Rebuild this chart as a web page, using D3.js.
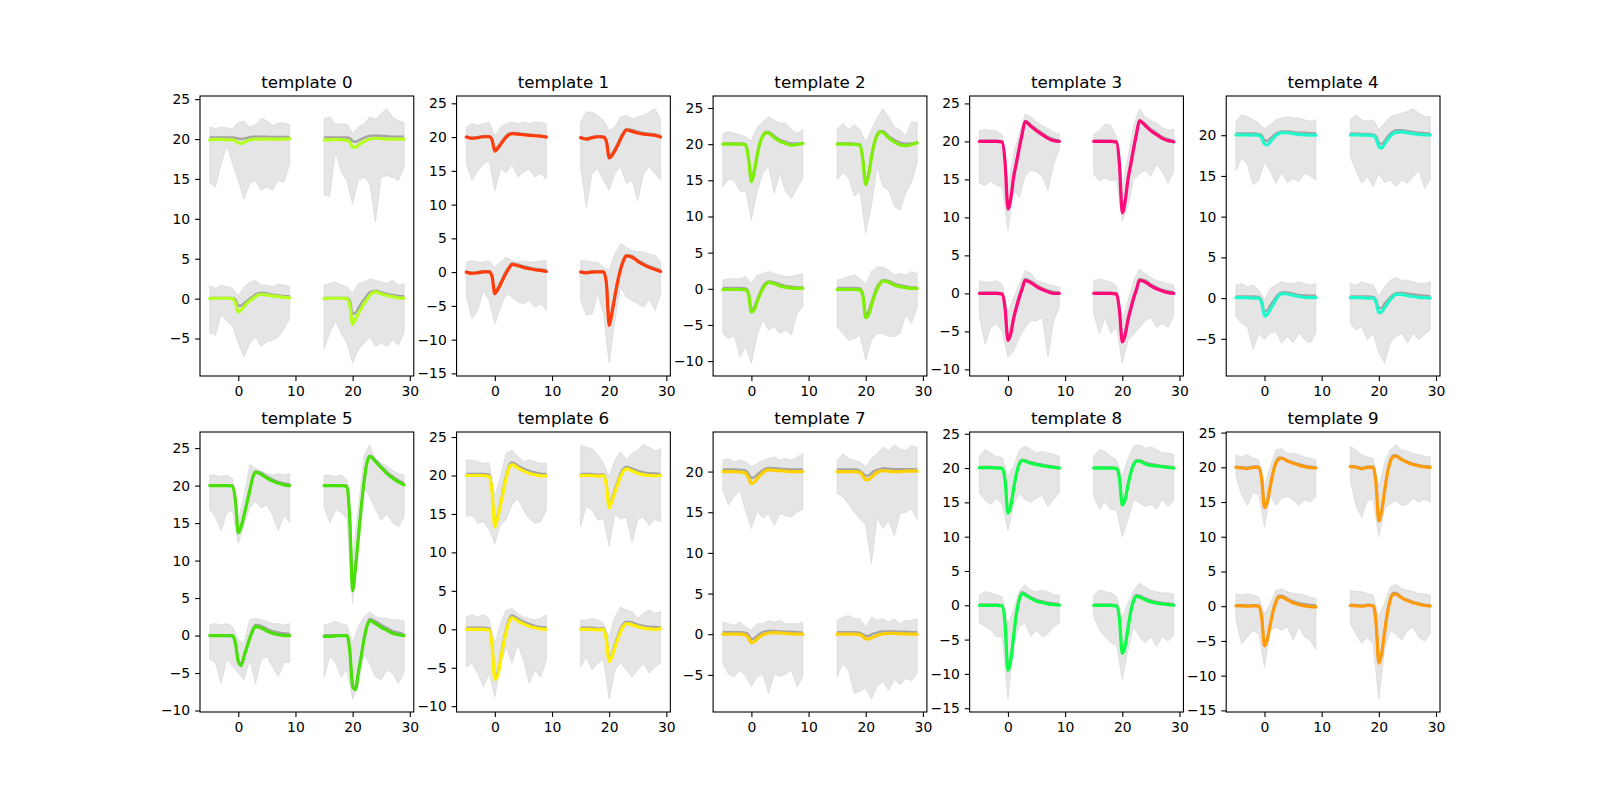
<!DOCTYPE html>
<html>
<head>
<meta charset="utf-8">
<script src="https://cdn.jsdelivr.net/npm/d3@7"></script>
<style>
body { margin: 0; background: #fff; }
svg text { font-family: 'DejaVu Sans', sans-serif; }
</style>
</head>
<body>
<svg id="canvas"></svg>
<script>
// sample positions (relative to spike) for template / mean lines and for the envelope
let sampleX = [-5, -4, -3, -2, -1, -0.5, 0, 0.5, 1, 1.5, 2, 2.5, 3, 4, 5, 6, 7, 8, 9]
let envX = [-5, -4, -3, -2, -1, 0, 1, 2, 3, 4, 5, 6, 7, 8, 9]
// 4 channels: x shift and baseline offset
let channelShift = [0, 20, 0, 20]
let channelBase = [20, 20, 0, 0]

let titles = ['template 0', 'template 1', 'template 2', 'template 3', 'template 4',
    'template 5', 'template 6', 'template 7', 'template 8', 'template 9']
let colors = ['#b4ff1e', '#ff3c0a', '#7fef05', '#ff0a78', '#20f8cc',
    '#48e008', '#ffef00', '#ffd000', '#0cff44', '#ff9a0a']
let xTicks = [0, 10, 20, 30]
let yTicks = [
    [-5, 0, 5, 10, 15, 20, 25],
    [-15, -10, -5, 0, 5, 10, 15, 20, 25],
    [-10, -5, 0, 5, 10, 15, 20, 25],
    [-10, -5, 0, 5, 10, 15, 20, 25],
    [-5, 0, 5, 10, 15, 20],
    [-10, -5, 0, 5, 10, 15, 20, 25],
    [-10, -5, 0, 5, 10, 15, 20, 25],
    [-5, 0, 5, 10, 15, 20],
    [-15, -10, -5, 0, 5, 10, 15, 20, 25],
    [-15, -10, -5, 0, 5, 10, 15, 20, 25]
]

// template waveform, per template, per channel (value above channel baseline)
let templates = [
    [[-0.1,-0.05,-0.05,-0.1,-0.1,-0.2,-0.5,-0.55,-0.4,-0.25,-0.1,-0.05,0,0,0,0,0,0,0.05],
     [-0.1,-0.1,-0.05,-0.1,-0.15,-0.35,-1.0,-1.05,-0.75,-0.5,-0.3,-0.15,0,0.1,0.05,0,0,0,0],
     [0,0.05,0.05,0.05,0,-0.5,-1.7,-1.4,-1.0,-0.6,-0.3,0,0.25,0.55,0.45,0.35,0.25,0.15,0.1],
     [0,0.05,0.05,0.05,0,-0.8,-3.2,-2.6,-1.9,-1.2,-0.6,-0.1,0.4,0.85,0.6,0.4,0.25,0.1,0.05]],
    [[0,-0.2,-0.1,0.05,0.05,-0.4,-2.1,-1.7,-1.1,-0.5,0,0.35,0.5,0.45,0.35,0.25,0.2,0.15,0],
     [-0.1,-0.3,-0.1,0.05,0,-0.6,-3.1,-2.7,-2.0,-1.2,-0.3,0.5,1.05,0.85,0.6,0.45,0.35,0.25,0],
     [0,-0.2,-0.1,0.05,0.05,-0.6,-3.2,-2.6,-1.8,-0.9,-0.1,0.6,1.15,0.95,0.7,0.5,0.35,0.25,0.1],
     [0,-0.1,0,0.05,0.05,-1.5,-7.9,-6.0,-3.6,-1.4,0.4,1.7,2.4,2.2,1.6,1.1,0.7,0.4,0.1]],
    [[0,0,0,0,-0.1,-2.0,-5.2,-3.8,-1.6,0.2,1.1,1.6,1.55,0.9,0.4,0.1,-0.15,-0.05,0.1],
     [0,0,0,-0.05,-0.1,-2.2,-5.6,-4.3,-1.9,0.1,1.2,1.7,1.6,0.9,0.3,-0.1,-0.2,-0.05,0.2],
     [-0.1,-0.1,-0.1,-0.1,-0.15,-0.8,-3.2,-2.9,-1.8,-0.8,0,0.6,0.9,0.7,0.4,0.2,0.1,0.05,0.1],
     [-0.1,-0.1,-0.1,-0.1,-0.15,-1.0,-4.0,-3.6,-2.3,-1.0,0,0.7,1.1,0.9,0.5,0.3,0.15,0.05,0.05]],
    [[0,0,0,0,-0.1,-2.8,-8.9,-7.5,-4.7,-2.8,-0.8,1.0,2.6,2.0,1.4,0.9,0.4,0.1,0],
     [0,0,0,0,-0.1,-3.0,-9.4,-7.9,-5.0,-3.0,-0.9,1.0,2.7,2.1,1.4,0.9,0.4,0.1,-0.05],
     [0,0,0,0,-0.1,-2.0,-6.2,-5.3,-3.3,-1.8,-0.5,0.6,1.7,1.4,0.9,0.5,0.2,0,0],
     [0,0,0,0,-0.1,-2.2,-6.4,-5.5,-3.5,-2.0,-0.6,0.5,1.7,1.5,1.0,0.6,0.3,0.1,0]],
    [[0.05,0.05,0.05,0,0,-0.3,-1.1,-1.2,-0.8,-0.4,-0.05,0.2,0.3,0.3,0.2,0.1,0.05,0,0],
     [0.05,0.05,0,0,-0.05,-0.4,-1.4,-1.6,-1.1,-0.6,-0.1,0.2,0.35,0.4,0.3,0.2,0.1,0.05,0],
     [0.05,0.05,0.05,0,0,-0.6,-2.2,-2.0,-1.4,-0.8,-0.2,0.3,0.55,0.5,0.35,0.2,0.1,0.05,0.05],
     [0.05,0.05,0.05,0,0,-0.5,-1.8,-1.7,-1.2,-0.7,-0.2,0.2,0.45,0.45,0.3,0.2,0.1,0.05,0]],
    [[0,0,0,0,-0.05,-2.0,-6.3,-5.5,-4.0,-2.4,-0.7,1.0,1.8,1.5,1.0,0.6,0.3,0.1,0],
     [0,0,0,0,-0.1,-4.5,-14.0,-11.0,-7.0,-3.0,0.5,3.0,3.9,3.2,2.4,1.6,1.0,0.5,0.1],
     [0,0,0,0,-0.05,-1.0,-3.5,-4.0,-2.8,-1.6,-0.4,0.6,1.2,1.0,0.6,0.3,0.1,0,0],
     [-0.1,-0.1,-0.05,0,0,-2.0,-6.8,-7.2,-5.0,-2.8,-0.5,1.2,2.0,1.6,1.1,0.7,0.3,0.1,0]],
    [[0,0,0,0,-0.15,-2.0,-6.7,-5.5,-3.8,-2.0,-0.3,1.0,1.4,1.0,0.6,0.3,0.1,-0.05,-0.05],
     [0,0,0,-0.1,0,-1.2,-4.2,-3.3,-2.2,-1.1,-0.1,0.6,0.85,0.6,0.3,0.1,0,-0.05,0],
     [0,0,0,0,-0.1,-2.0,-6.5,-6.0,-4.0,-2.0,-0.3,1.0,1.5,1.1,0.7,0.4,0.2,0.05,0],
     [0,0,0,-0.1,0,-1.3,-4.2,-3.5,-2.4,-1.3,-0.3,0.4,0.75,0.6,0.35,0.15,0.05,0,0.05]],
    [[0,0,0,-0.05,-0.2,-0.8,-1.5,-1.3,-0.9,-0.5,-0.15,0.1,0.2,0.15,0.1,0.05,0,0,0],
     [0,0,0,0,-0.1,-0.5,-1.0,-1.0,-0.7,-0.4,-0.1,0.05,0.1,0.05,0,0,0.05,0.05,0.05],
     [0,0,0,0,-0.1,-0.5,-1.05,-0.9,-0.6,-0.3,-0.1,0.05,0.15,0.2,0.15,0.1,0.05,0,0],
     [0,0,0,0,-0.05,-0.3,-0.55,-0.6,-0.45,-0.3,-0.15,-0.05,0.05,0.1,0.1,0.05,0.05,0,0]],
    [[0.05,0.05,0.05,0,-0.05,-1.8,-6.6,-5.5,-3.0,-0.8,0.6,1.1,1.0,0.7,0.5,0.35,0.2,0.1,0],
     [0,0,0,0,-0.05,-1.5,-5.4,-4.6,-2.5,-0.7,0.5,1.0,1.0,0.6,0.4,0.3,0.2,0.1,0],
     [0,0,0,0,-0.1,-2.8,-9.5,-8.0,-4.5,-1.2,0.9,1.7,1.5,1.0,0.6,0.4,0.2,0.1,0],
     [0,0,0,0,-0.1,-2.0,-7.0,-6.0,-3.4,-0.9,0.7,1.3,1.2,0.8,0.5,0.3,0.2,0.1,0]],
    [[0,-0.1,-0.2,0,0,-1.6,-5.8,-5.0,-2.8,-0.8,0.6,1.2,1.3,0.9,0.6,0.3,0.1,-0.05,-0.1],
     [0.1,0,-0.2,0,0,-2.3,-7.7,-6.3,-3.5,-0.9,0.8,1.5,1.6,1.1,0.7,0.4,0.2,0.05,0],
     [0.05,0.05,0,0.05,0,-1.6,-5.7,-4.8,-2.7,-0.8,0.6,1.3,1.35,0.9,0.5,0.25,0.05,-0.05,-0.1],
     [0.1,0.05,0,0.1,0.1,-2.3,-8.2,-6.8,-3.8,-1.0,0.9,1.7,1.75,1.2,0.8,0.5,0.3,0.1,0]]
]

// mean of the assigned waveforms
let means = [
    [[0.2,0.2,0.2,0.2,0.2,0.15,0.05,0,0.05,0.15,0.25,0.3,0.3,0.3,0.3,0.25,0.25,0.25,0.25],
     [0.2,0.2,0.2,0.2,0.2,0.1,-0.25,-0.35,-0.2,0,0.15,0.3,0.4,0.45,0.4,0.35,0.3,0.3,0.3],
     [0.1,0.1,0.1,0.1,0.1,-0.1,-0.9,-0.9,-0.6,-0.3,0,0.25,0.5,0.75,0.65,0.5,0.4,0.3,0.3],
     [0.1,0.1,0.1,0.1,0.1,-0.2,-1.9,-1.8,-1.2,-0.6,-0.1,0.4,0.8,1.0,0.8,0.6,0.45,0.35,0.3]],
    [[0.1,-0.1,0,0.15,0.15,-0.3,-1.8,-1.4,-0.9,-0.3,0.2,0.5,0.6,0.6,0.45,0.35,0.3,0.2,0.1],
     [0,-0.2,0,0.15,0.1,-0.5,-2.7,-2.4,-1.7,-0.9,0,0.7,1.2,1.05,0.8,0.6,0.5,0.4,0.2],
     [0.1,-0.1,0,0.15,0.15,-0.5,-2.8,-2.3,-1.5,-0.6,0.2,0.8,1.3,1.15,0.9,0.7,0.5,0.4,0.3],
     [0.1,0,0.1,0.15,0.15,-1.3,-7.3,-5.5,-3.2,-1.0,0.7,1.9,2.5,2.4,1.8,1.3,0.9,0.6,0.3]],
    [[0.1,0.1,0.1,0.1,0,-1.8,-4.8,-3.5,-1.4,0.3,1.2,1.7,1.7,1.1,0.6,0.3,0.1,0.1,0.15],
     [0.1,0.1,0.1,0.05,0,-2.0,-5.2,-4.0,-1.6,0.3,1.4,1.8,1.8,1.1,0.6,0.2,0.05,0.1,0.2],
     [0.1,0.1,0.1,0.1,0.05,-0.5,-2.8,-2.5,-1.5,-0.5,0.3,0.8,1.0,0.9,0.6,0.4,0.3,0.2,0.2],
     [0.1,0.1,0.1,0.1,0.05,-0.7,-3.5,-3.1,-1.9,-0.7,0.3,0.9,1.2,1.1,0.7,0.5,0.35,0.2,0.2]],
    [[0.1,0.1,0.1,0.1,0,-2.6,-8.5,-7.1,-4.3,-2.4,-0.5,1.2,2.7,2.2,1.6,1.1,0.6,0.3,0.1],
     [0.1,0.1,0.1,0.1,0,-2.8,-9.0,-7.5,-4.6,-2.6,-0.5,1.3,2.8,2.3,1.6,1.1,0.6,0.3,0.1],
     [0.1,0.1,0.1,0.1,0,-1.8,-5.8,-4.9,-3.0,-1.5,-0.2,0.9,1.9,1.6,1.1,0.7,0.4,0.2,0.1],
     [0.1,0.1,0.1,0.1,0,-2.0,-6.0,-5.1,-3.1,-1.7,-0.3,0.8,1.9,1.7,1.2,0.8,0.5,0.3,0.15]],
    [[0.2,0.2,0.2,0.2,0.15,0,-0.6,-0.7,-0.4,-0.1,0.2,0.35,0.45,0.45,0.4,0.3,0.3,0.25,0.25],
     [0.2,0.2,0.15,0.15,0.1,-0.1,-0.9,-1.1,-0.7,-0.2,0.2,0.45,0.6,0.6,0.5,0.4,0.3,0.25,0.2],
     [0.2,0.2,0.2,0.2,0.15,-0.3,-1.6,-1.5,-0.9,-0.4,0.1,0.5,0.7,0.7,0.55,0.4,0.35,0.3,0.3],
     [0.2,0.2,0.2,0.2,0.15,-0.2,-1.2,-1.2,-0.7,-0.3,0.1,0.4,0.6,0.65,0.55,0.45,0.35,0.3,0.25]],
    [[0.05,0.05,0.05,0.05,0,-1.9,-6.1,-5.3,-3.8,-2.2,-0.5,1.1,1.9,1.7,1.2,0.8,0.5,0.3,0.2],
     [0.05,0.05,0.05,0.05,0,-4.3,-13.6,-10.7,-6.8,-2.8,0.7,3.1,4.0,3.4,2.6,1.8,1.2,0.7,0.3],
     [0.05,0.05,0.05,0.05,0,-0.9,-3.3,-3.8,-2.6,-1.4,-0.2,0.8,1.4,1.3,0.9,0.6,0.4,0.3,0.2],
     [0.05,0.05,0.05,0.05,0,-1.8,-6.5,-7.0,-4.8,-2.6,-0.3,1.4,2.2,1.9,1.4,1.0,0.6,0.4,0.2]],
    [[0.2,0.2,0.2,0.2,0.1,-1.8,-6.3,-5.1,-3.4,-1.6,0.1,1.3,1.7,1.3,0.9,0.6,0.4,0.25,0.2],
     [0.2,0.2,0.2,0.1,0.15,-1.0,-3.8,-3.0,-1.8,-0.7,0.3,0.9,1.1,0.9,0.6,0.4,0.3,0.25,0.2],
     [0.2,0.2,0.2,0.2,0.1,-1.8,-6.2,-5.6,-3.6,-1.6,0.1,1.3,1.8,1.4,1.0,0.7,0.45,0.3,0.25],
     [0.2,0.2,0.2,0.1,0.15,-1.1,-3.9,-3.2,-2.0,-0.9,0.1,0.7,1.0,0.9,0.6,0.45,0.35,0.3,0.25]],
    [[0.25,0.25,0.25,0.2,0.1,-0.3,-0.8,-0.7,-0.4,-0.1,0.15,0.35,0.45,0.4,0.35,0.3,0.25,0.25,0.25],
     [0.25,0.25,0.25,0.25,0.1,-0.2,-0.5,-0.5,-0.2,0.05,0.2,0.3,0.4,0.35,0.3,0.3,0.3,0.3,0.25],
     [0.25,0.25,0.25,0.25,0.15,-0.1,-0.6,-0.5,-0.2,0.05,0.25,0.35,0.4,0.4,0.35,0.3,0.3,0.25,0.2],
     [0.25,0.25,0.25,0.25,0.15,0,-0.2,-0.2,-0.05,0.1,0.2,0.3,0.35,0.35,0.35,0.3,0.3,0.25,0.25]],
    [[0.15,0.15,0.15,0.1,0,-1.7,-6.4,-5.3,-2.8,-0.6,0.8,1.2,1.15,0.85,0.65,0.5,0.35,0.2,0.1],
     [0.1,0.1,0.1,0.1,0,-1.4,-5.2,-4.4,-2.3,-0.5,0.7,1.1,1.1,0.8,0.6,0.45,0.3,0.2,0.1],
     [0.1,0.1,0.1,0.1,0,-2.7,-9.2,-7.7,-4.2,-0.9,1.1,1.9,1.7,1.2,0.8,0.55,0.4,0.25,0.15],
     [0.1,0.1,0.1,0.1,0,-1.9,-6.7,-5.7,-3.1,-0.6,0.9,1.5,1.4,1.0,0.7,0.5,0.35,0.25,0.15]],
    [[0.1,0,-0.05,0.1,0.1,-1.5,-5.6,-4.8,-2.6,-0.6,0.8,1.4,1.4,1.0,0.7,0.45,0.25,0.1,0],
     [0.2,0.1,-0.1,0.1,0.1,-2.2,-7.5,-6.1,-3.3,-0.7,1.0,1.7,1.7,1.2,0.8,0.5,0.3,0.15,0.1],
     [0.15,0.15,0.1,0.15,0.1,-1.5,-5.5,-4.6,-2.5,-0.6,0.8,1.5,1.5,1.1,0.7,0.45,0.3,0.2,0.1],
     [0.2,0.15,0.1,0.2,0.15,-2.2,-8.0,-6.6,-3.6,-0.8,1.1,1.9,1.9,1.3,0.9,0.6,0.4,0.2,0.1]]
]

// upper edge of the waveform spread (on envX)
let upperEnv = [
    [[1.5,1.3,1.5,1.4,1.3,2.1,2.2,1.5,1.8,2.6,2.3,1.7,2.0,2.0,1.8],
     [2.5,2.8,1.9,1.9,1.9,0.7,1.5,1.9,2.75,2.5,3.2,3.8,2.7,2.3,2.1],
     [1.6,1.3,1.7,1.5,1.3,0.3,1.5,2.1,2.3,1.7,1.7,1.5,1.8,1.7,1.5],
     [1.7,1.9,2.1,1.7,1.5,0.7,1.9,2.1,2.5,2.3,2.1,1.9,2.3,1.7,1.9]],
    [[1.5,2.0,1.7,2.0,2.2,0.2,1.5,2.0,2.2,2.0,2.2,2.0,2.2,2.2,2.0],
     [2.2,3.7,3.7,3.2,2.5,1.0,1.5,3.0,3.2,2.7,3.0,3.2,3.7,4.2,2.7],
     [1.5,1.7,1.5,1.5,1.7,0.7,1.5,2.2,1.7,1.5,1.7,1.5,1.5,1.7,1.7],
     [1.7,1.7,1.5,1.5,0.7,0.3,2.7,4.2,3.7,3.2,3.0,3.0,2.7,2.5,1.5]],
    [[1.5,1.7,1.5,1.3,1.0,0.5,2.3,3.1,3.8,3.3,2.9,2.9,2.0,1.5,2.0],
     [2.0,2.9,2.0,2.7,2.0,0.3,2.0,3.6,4.9,3.8,2.4,2.0,1.1,3.1,3.0],
     [1.2,1.4,1.4,1.4,1.7,0.7,1.9,2.1,2.4,2.1,1.9,1.7,1.7,1.9,2.1],
     [1.2,1.4,1.7,1.9,1.4,0.7,2.4,3.0,3.0,2.6,1.9,2.1,1.9,2.4,2.1]],
    [[1.4,1.6,1.4,1.4,0.8,-6.0,-1.5,1.0,3.6,3.2,2.6,2.1,1.7,1.2,1.0],
     [1.0,1.4,2.3,2.1,0.6,-6.0,-2.0,2.1,4.3,3.2,2.8,2.4,1.8,1.5,1.6],
     [1.7,1.5,1.5,1.7,1.2,-2.5,-0.5,1.2,3.0,2.6,1.7,1.5,1.2,1.0,0.8],
     [1.7,1.9,1.7,1.5,1.0,-3.5,-1.0,1.7,3.2,2.6,2.1,1.7,1.5,1.3,1.1]],
    [[1.7,2.5,2.3,1.9,1.5,0.8,1.3,1.9,2.1,2.3,2.1,2.1,1.9,1.7,1.9],
     [1.9,2.5,1.9,1.7,1.9,0.7,1.5,2.3,2.5,2.7,2.9,3.25,2.7,2.3,2.3],
     [1.6,1.8,1.4,1.6,1.0,-0.2,1.2,1.6,2.0,1.8,1.8,2.0,1.8,1.6,1.8],
     [1.8,1.6,2.0,1.8,1.6,0.2,1.4,2.2,2.5,2.2,2.2,2.0,1.8,1.8,2.0]],
    [[1.4,1.4,1.2,1.4,0.9,-4.5,-1.5,2.8,2.3,1.9,1.6,1.4,1.6,1.4,1.6],
     [1.4,1.4,1.2,1.4,0.8,-9.5,-3.0,4.0,5.45,3.5,3.0,2.6,2.0,1.6,1.4],
     [1.4,1.6,1.4,1.6,1.2,-0.6,-1.0,2.1,2.3,2.1,1.9,1.6,1.6,1.4,1.6],
     [1.4,1.6,1.9,1.6,1.4,-1.0,1.2,2.5,3.2,2.5,2.3,2.3,2.1,2.1,1.9]],
    [[2.0,2.0,1.8,1.6,1.6,-2.7,-0.1,2.9,3.3,2.5,1.8,2.0,1.8,1.6,1.6],
     [3.9,3.7,3.5,2.7,1.6,-0.1,2.0,3.1,2.0,2.9,3.3,4.0,3.7,3.2,3.5],
     [1.6,1.9,1.6,1.9,1.4,-1.8,0.8,2.5,2.7,2.1,1.6,1.4,1.2,1.4,1.9],
     [1.2,1.2,1.4,1.2,0.8,-1.0,1.6,2.9,2.5,2.3,1.4,2.1,2.5,2.1,2.3]],
    [[1.4,1.6,1.2,1.4,1.2,0.6,1.0,1.4,1.6,1.8,1.4,1.6,1.4,1.8,2.2],
     [1.4,2.2,1.6,1.4,1.2,0.6,1.6,2.2,3.0,2.6,3.3,2.8,2.6,3.2,3.0],
     [1.5,1.3,1.1,1.5,0.9,0.5,1.3,1.3,1.7,1.5,1.7,1.3,1.3,1.3,1.5],
     [1.7,2.1,2.3,1.9,1.9,0.9,2.1,1.7,1.9,1.5,1.9,1.3,1.7,1.7,1.9]],
    [[1.7,2.7,2.2,1.7,1.5,-1.2,0.3,2.7,3.2,2.7,2.2,2.4,2.2,2.0,1.7],
     [1.7,2.7,2.4,1.7,1.2,-1.2,1.4,3.2,3.4,2.9,3.1,2.7,2.2,2.2,2.0],
     [1.5,2.0,1.8,1.5,1.3,-2.6,-0.7,2.2,3.0,2.2,2.0,2.2,2.0,1.5,1.5],
     [1.5,2.2,2.0,1.8,1.3,-1.6,0.2,2.2,3.2,2.7,2.2,2.0,1.8,1.8,1.6]],
    [[1.8,1.5,1.8,1.3,1.1,-2.8,0.1,2.5,2.7,2.0,2.0,1.8,1.5,1.3,1.1],
     [3.0,2.5,1.8,1.5,1.3,-2.8,0.7,2.5,3.25,2.5,2.3,2.0,1.8,1.6,1.5],
     [1.8,1.6,1.8,1.6,1.3,-1.1,0.4,2.3,2.5,2.1,1.8,1.8,1.6,1.3,1.1],
     [2.3,2.1,2.1,1.8,1.6,-1.5,0.4,2.8,3.2,2.5,2.3,2.1,1.8,1.8,1.6]]
]

// lower edge of the waveform spread (on envX)
let lowerEnv = [
    [[-5.5,-6,-3.1,-0.8,-3.1,-5.2,-7.5,-5.6,-5.2,-6.4,-6,-6.4,-5.2,-5.4,-3.1],
     [-7,-7.2,-1.6,-4.1,-5.2,-8.1,-5.2,-4.8,-5.6,-10.4,-4.8,-4.6,-4.8,-5.2,-3.5],
     [-4.3,-4.6,-2.0,-2.8,-3.5,-5.6,-7.3,-5.6,-4.8,-6.0,-5.4,-5.2,-4.8,-3.8,-2.5],
     [-6.3,-4.3,-2.8,-4.3,-5.6,-8.1,-6.4,-5.6,-4.8,-6.0,-5.6,-6.0,-5.2,-5.8,-4.3]],
    [[-4.0,-6.4,-5.0,-4.0,-3.5,-8.0,-4.7,-5.3,-4.0,-5.9,-5.2,-4.7,-5.9,-5.4,-6.2],
     [-4.4,-10.4,-5.4,-4.7,-6.4,-7.9,-5.4,-4.4,-6.9,-6.4,-9.4,-5.4,-4.4,-5.4,-6.4],
     [-3.5,-6.9,-5.7,-2.7,-4.2,-7.7,-5.2,-3.2,-3.7,-4.4,-4.7,-4.2,-5.2,-4.7,-5.7],
     [-4.2,-6.4,-6.2,-3.2,-6.2,-13.5,-7.2,-2.2,-3.7,-4.2,-4.7,-5.2,-4.0,-5.7,-3.2]],
    [[-5.9,-4.9,-5.0,-6.5,-6.5,-10.5,-6.5,-4.0,-3.1,-6.8,-4.0,-6.6,-7.5,-6.1,-4.6],
     [-4.9,-4.0,-4.6,-7.2,-6.5,-12.3,-8.5,-3.1,-5.9,-6.3,-8.6,-9.1,-6.8,-5.3,-2.6],
     [-6.2,-6.9,-6.5,-9.4,-8.0,-10.3,-6.5,-4.3,-5.7,-5.3,-6.2,-5.7,-6.4,-3.4,-2.5],
     [-5.3,-6.2,-7.1,-6.9,-6.4,-9.9,-7.1,-6.2,-6.2,-6.6,-6.6,-6.2,-3.6,-4.8,-2.5]],
    [[-5.5,-5.8,-5.2,-5.8,-6.0,-11.7,-6.5,-7.3,-4.6,-3.8,-4.0,-4.6,-6.5,-3.0,-1.0],
     [-4.3,-5.2,-4.8,-5.2,-5.0,-10.5,-8.5,-5.0,-4.3,-3.8,-4.6,-3.0,-4.0,-5.5,-4.0],
     [-3.0,-6.7,-4.5,-4.0,-5.0,-8.4,-7.6,-5.8,-4.5,-3.6,-3.6,-3.2,-8.4,-3.6,-1.8],
     [-2.7,-5.3,-3.2,-5.3,-4.5,-9.2,-6.2,-5.4,-4.5,-3.6,-3.2,-4.5,-4.0,-4.5,-3.0]],
    [[-4.3,-2.8,-3.6,-6.1,-5.5,-3.3,-4.4,-5.9,-4.6,-5.8,-5.3,-5.7,-4.7,-5.0,-5.5],
     [-2.6,-4.3,-5.9,-5.1,-6.3,-4.7,-5.8,-5.5,-6.3,-5.5,-5.9,-5.1,-4.3,-6.5,-5.5],
     [-2.3,-3.1,-3.5,-6.3,-4.3,-5.1,-4.3,-4.1,-5.5,-4.7,-5.5,-4.3,-5.1,-5.5,-4.3],
     [-3.1,-3.9,-3.5,-5.1,-4.3,-6.7,-8.0,-5.5,-4.7,-4.3,-5.5,-4.3,-5.1,-4.5,-3.9]],
    [[-3.2,-4.2,-6.0,-3.6,-3.4,-7.7,-5.3,-3.0,-2.1,-3.0,-2.6,-4.0,-6.0,-4.0,-5.0],
     [-2.8,-5.0,-3.2,-3.6,-4.5,-15.7,-8.0,-0.1,-1.5,-3.2,-4.6,-3.8,-5.0,-5.5,-4.2],
     [-3.2,-3.6,-6.4,-3.2,-4.1,-5.0,-5.9,-3.2,-6.4,-3.2,-2.8,-4.2,-5.5,-3.6,-3.6],
     [-5.5,-2.8,-3.6,-5.5,-4.6,-8.5,-6.5,-2.4,-3.8,-5.5,-5.9,-4.6,-5.0,-6.4,-5.0]],
    [[-5.3,-5.2,-6.2,-6.0,-7.0,-8.9,-6.4,-5.7,-3.8,-3.0,-4.5,-5.6,-6.2,-6.0,-4.5],
     [-6.6,-4.0,-4.5,-5.8,-5.6,-9.2,-5.0,-5.7,-5.4,-8.7,-5.7,-5.4,-6.5,-5.7,-6.0],
     [-4.9,-4.4,-5.7,-7.5,-5.7,-8.8,-4.6,-2.3,-4.4,-2.0,-4.0,-7.0,-5.3,-6.2,-4.0],
     [-4.9,-3.6,-5.3,-4.4,-4.0,-9.1,-5.3,-4.4,-5.3,-6.2,-5.3,-4.4,-5.7,-4.9,-4.4]],
    [[-2.3,-4.1,-3.1,-2.3,-4.9,-7.0,-4.9,-5.7,-5.2,-6.6,-5.2,-5.4,-5.6,-5.0,-4.6],
     [-2.7,-3.1,-4.0,-5.0,-5.8,-6.6,-11.3,-5.6,-7.0,-6.0,-7.9,-5.2,-5.0,-4.6,-5.9],
     [-3.6,-4.9,-5.2,-4.4,-5.2,-6.4,-5.2,-4.9,-7.3,-4.9,-5.2,-4.9,-4.4,-6.5,-5.2],
     [-5.2,-3.6,-4.5,-7.3,-7.0,-6.6,-8.0,-6.4,-5.8,-6.9,-5.6,-6.2,-5.4,-5.7,-4.8]],
    [[-3.6,-4.7,-5.3,-4.4,-5.3,-9.1,-5.4,-3.7,-4.6,-5.0,-4.4,-4.0,-5.6,-4.6,-3.6],
     [-4.1,-6.0,-4.9,-6.1,-6.1,-10.0,-7.5,-4.6,-5.1,-5.6,-5.3,-6.0,-4.6,-5.6,-4.8],
     [-2.6,-3.1,-3.6,-4.6,-4.6,-13.7,-5.5,-3.1,-2.6,-4.6,-3.6,-4.6,-4.1,-3.1,-2.6],
     [-1.7,-3.6,-4.6,-5.5,-5.8,-10.8,-6.5,-3.1,-4.6,-5.5,-4.6,-6.0,-4.6,-5.2,-4.4]],
    [[-1.3,-4.0,-5.5,-3.6,-4.0,-8.6,-4.0,-5.5,-4.5,-4.2,-4.7,-5.5,-4.7,-5.0,-4.2],
     [-1.8,-5.6,-7.2,-4.8,-4.6,-10.0,-6.0,-5.2,-4.8,-5.5,-5.3,-4.5,-5.0,-4.6,-5.0],
     [-2.0,-5.4,-4.5,-3.5,-4.0,-8.8,-3.5,-3.0,-3.5,-3.0,-4.9,-3.0,-4.4,-4.9,-6.3],
     [-2.5,-4.0,-5.4,-4.5,-5.5,-13.4,-6.3,-3.5,-4.0,-4.9,-3.5,-3.0,-4.5,-5.0,-4.0]]
]

let width = 1600
let height = 800
let figLeft = 200
let figRight = 1440
let figTop = 96
let figBottom = 712
let colW = (figRight - figLeft) / (5 + 4 * 0.2)
let rowH = (figBottom - figTop) / (2 + 2 * 0.1)
let fontPx = 13.9

let canvas = d3.select('#canvas')
canvas.attr('width', width)
canvas.attr('height', height)

let drawPanel = (k) => {
    let col = k % 5
    let row = Math.floor(k / 5)
    let x0 = figLeft + col * colW * 1.2
    let y0 = figTop + row * rowH * 1.2

    // y range from the data, 5% margin like matplotlib
    let lows = []
    let highs = []
    for (let c = 0; c < 4; c++) {
        lowerEnv[k][c].forEach((v) => lows.push(v + channelBase[c]))
        upperEnv[k][c].forEach((v) => highs.push(v + channelBase[c]))
        templates[k][c].forEach((v) => { lows.push(v + channelBase[c]); highs.push(v + channelBase[c]) })
    }
    let yMin = d3.min(lows)
    let yMax = d3.max(highs)
    let yPad = (yMax - yMin) * 0.05
    let xMin = -5 - 1.7
    let xMax = 29 + 1.7

    let xScale = d3.scaleLinear().domain([xMin, xMax]).range([x0, x0 + colW])
    let yScale = d3.scaleLinear().domain([yMin - yPad, yMax + yPad]).range([y0 + rowH, y0])

    let panel = canvas.append('g').attr('class', 'panel')

    let area = d3.area()
        .x((d) => xScale(d.x))
        .y0((d) => yScale(d.lo))
        .y1((d) => yScale(d.hi))
    let line = d3.line()
        .x((d) => xScale(d.x))
        .y((d) => yScale(d.y))
        .curve(d3.curveMonotoneX)

    for (let c = 0; c < 4; c++) {
        let band = envX.map((x, i) => ({
            x: x + channelShift[c],
            lo: lowerEnv[k][c][i] + channelBase[c],
            hi: upperEnv[k][c][i] + channelBase[c]
        }))
        let meanPts = sampleX.map((x, i) => ({ x: x + channelShift[c], y: means[k][c][i] + channelBase[c] }))
        let tplPts = sampleX.map((x, i) => ({ x: x + channelShift[c], y: templates[k][c][i] + channelBase[c] }))

        panel.append('path')
            .attr('d', area(band))
            .attr('fill', '#d3d3d3')
            .attr('fill-opacity', 0.6)
            .attr('stroke', '#d3d3d3')
            .attr('stroke-opacity', 0.6)
            .attr('stroke-width', 1)
        panel.append('path')
            .attr('d', line(meanPts))
            .attr('fill', 'none')
            .attr('stroke', '#808080')
            .attr('stroke-opacity', 0.65)
            .attr('stroke-width', 2.4)
        panel.append('path')
            .attr('d', line(tplPts))
            .attr('fill', 'none')
            .attr('stroke', colors[k])
            .attr('stroke-width', 3.2)
            .attr('stroke-linejoin', 'round')
            .attr('stroke-linecap', 'round')
    }

    let [dLo, dHi] = yScale.domain()
    let xAxis = d3.axisBottom(xScale)
        .tickValues(xTicks)
        .tickSize(4.9)
        .tickPadding(4.9)
        .tickFormat(d3.format('d'))
    let yAxis = d3.axisLeft(yScale)
        .tickValues(yTicks[k].filter((t) => t >= dLo && t <= dHi))
        .tickSize(4.9)
        .tickPadding(4.9)
        .tickFormat(d3.format('d'))

    let gx = panel.append('g')
        .attr('transform', 'translate(0,' + (y0 + rowH) + ')')
        .call(xAxis)
    let gy = panel.append('g')
        .attr('transform', 'translate(' + x0 + ',0)')
        .call(yAxis)
    for (let g of [gx, gy]) {
        g.select('.domain').remove()
        g.attr('font-size', fontPx).attr('font-family', 'DejaVu Sans, sans-serif')
        g.selectAll('.tick line').attr('stroke', '#000').attr('stroke-width', 1.1)
        g.selectAll('.tick text').attr('fill', '#000')
    }

    panel.append('rect')
        .attr('x', x0)
        .attr('y', y0)
        .attr('width', colW)
        .attr('height', rowH)
        .attr('fill', 'none')
        .attr('stroke', '#000')
        .attr('stroke-width', 1.1)

    panel.append('text')
        .attr('x', x0 + colW / 2)
        .attr('y', y0 - 8.3)
        .attr('text-anchor', 'middle')
        .attr('font-size', 16.7)
        .attr('fill', '#000')
        .text(titles[k])
}

for (let k = 0; k < 10; k++) {
    drawPanel(k)
}
</script>
</body>
</html>
